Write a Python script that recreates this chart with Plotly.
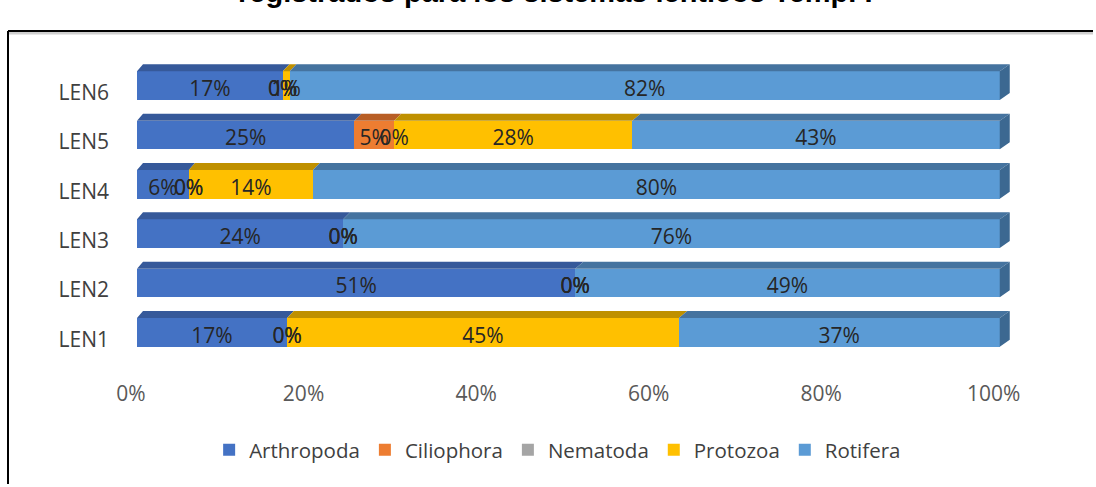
import plotly.graph_objects as go

# ---- data -------------------------------------------------------------
categories = ["LEN1", "LEN2", "LEN3", "LEN4", "LEN5", "LEN6"]
series_names = ["Arthropoda", "Ciliophora", "Nematoda", "Protozoa", "Rotifera"]
arthropoda = [17.4, 50.8, 23.9, 6.0, 25.2, 16.9]
ciliophora = [0.0, 0.0, 0.0, 0.0, 4.6, 0.0]
nematoda = [0.0, 0.0, 0.0, 0.0, 0.0, 0.0]
protozoa = [45.4, 0.0, 0.0, 14.4, 27.6, 0.8]
rotifera = [37.2, 49.2, 76.1, 79.6, 42.6, 82.3]
x_tick_values = [0, 20, 40, 60, 80, 100]
x_tick_labels = ["0%", "20%", "40%", "60%", "80%", "100%"]
title_text = "registrados para los sistemas lénticos Temp. I"

# ---- styling ----------------------------------------------------------
front_colors = ["#4472C4", "#ED7D31", "#A5A5A5", "#FFC000", "#5B9BD5"]
top_colors = ["#36599A", "#B85E25", "#7C7C7C", "#BF9000", "#45739F"]
side_color = "#3C6891"
FONT = "Open Sans"

W, H = 1096, 487
M_L, M_R, M_T, M_B = 137, 79, 61, 130
X_MAX = 102.0
PLOT_W = W - M_L - M_R
PLOT_H = H - M_T - M_B
Y_LO, Y_HI = -0.5, 5.5
PX_X = PLOT_W / X_MAX              # pixels per percent
PX_Y = PLOT_H / (Y_HI - Y_LO)      # pixels per category step
BAR_W = 0.58
DEPTH_Y = 7 / PX_Y


def depth_x(x):
    # horizontal depth offset of the 3-D faces grows slightly to the right
    return (6 + 4 * x / 100) / PX_X


series = [arthropoda, ciliophora, nematoda, protozoa, rotifera]
rows = list(range(len(categories)))

fig = go.Figure()

# front faces: stacked horizontal bars
for name, vals, col in zip(series_names, series, front_colors):
    fig.add_trace(go.Bar(
        y=rows, x=vals, name=name, orientation="h", width=BAR_W,
        marker=dict(color=col, line=dict(width=0)),
        hoverinfo="skip",
    ))

# top faces of every segment and the right-hand side face
starts = [[0.0] * len(rows)]
for vals in series[:-1]:
    starts.append([s + v for s, v in zip(starts[-1], vals)])

for k, (vals, col) in enumerate(zip(series, top_colors)):
    xs, ys = [], []
    for r in rows:
        a = starts[k][r]
        b = a + vals[r]
        if vals[r] <= 0:
            continue
        yt = r + BAR_W / 2
        xs += [a, b, b + depth_x(b), a + depth_x(a), a, None]
        ys += [yt, yt, yt + DEPTH_Y, yt + DEPTH_Y, yt, None]
    if xs:
        fig.add_trace(go.Scatter(
            x=xs, y=ys, mode="lines", fill="toself", fillcolor=col,
            line=dict(width=0, color=col), showlegend=False, hoverinfo="skip",
        ))

sx, sy = [], []
for r in rows:
    end = sum(vals[r] for vals in series)
    yt, yb = r + BAR_W / 2, r - BAR_W / 2
    d = depth_x(end)
    sx += [end, end + d, end + d, end, end, None]
    sy += [yt, yt + DEPTH_Y, yb + DEPTH_Y, yb, yt, None]
fig.add_trace(go.Scatter(
    x=sx, y=sy, mode="lines", fill="toself", fillcolor=side_color,
    line=dict(width=0, color=side_color), showlegend=False, hoverinfo="skip",
))

# data labels centred on each segment's front face
lx, ly, lt = [], [], []
for k, vals in enumerate(series):
    for r in rows:
        lx.append(starts[k][r] + vals[r] / 2)
        ly.append(r - 5 / PX_Y)
        lt.append(f"{round(vals[r])}%")
fig.add_trace(go.Scatter(
    x=lx, y=ly, text=lt, mode="text", textposition="middle center",
    textfont=dict(family=FONT, size=21, color="#262626"),
    showlegend=False, hoverinfo="skip", cliponaxis=False,
))

# frame: top and left edges, stopping just short of the page border
fx0 = (8 - M_L) / PLOT_W
fx1 = (W - 3 - M_L) / PLOT_W
fy_top = 1 + (M_T - 31) / PLOT_H
fy_shadow = 1 + (M_T - 33) / PLOT_H
fy_bot = -(M_B - 3) / PLOT_H

fig.update_layout(
    barmode="stack",
    width=W, height=H,
    margin=dict(l=M_L, r=M_R, t=M_T, b=M_B, pad=0),
    paper_bgcolor="white", plot_bgcolor="white",
    font=dict(family=FONT, color="#404040"),
    showlegend=True,
    legend=dict(
        orientation="h", x=0.478, xanchor="center", y=-0.314, yanchor="middle",
        traceorder="normal", font=dict(family=FONT, size=20.5, color="#404040"),
        bgcolor="rgba(0,0,0,0)",
    ),
    xaxis=dict(
        range=[0, X_MAX], tickvals=x_tick_values, ticktext=x_tick_labels,
        showgrid=False, zeroline=False, showline=False,
        tickfont=dict(family=FONT, size=21, color="#595959"),
        ticklabelstandoff=22, ticklabelshift=-6,
    ),
    yaxis=dict(
        range=[Y_LO, Y_HI], tickvals=rows, ticktext=categories,
        showgrid=False, zeroline=False, showline=False,
        tickfont=dict(family=FONT, size=21, color="#404040"),
        ticklabelstandoff=27, ticklabelshift=7,
    ),
    shapes=[
        dict(type="line", xref="paper", yref="paper",
             x0=fx0, x1=fx1, y0=fy_shadow, y1=fy_shadow,
             line=dict(color="#CFCFCF", width=3), layer="below"),
        dict(type="line", xref="paper", yref="paper",
             x0=fx0, x1=fx1, y0=fy_top, y1=fy_top,
             line=dict(color="black", width=2), layer="below"),
        dict(type="line", xref="paper", yref="paper",
             x0=fx0, x1=fx0, y0=fy_bot, y1=fy_top,
             line=dict(color="black", width=2), layer="below"),
    ],
    annotations=[
        dict(text=title_text, xref="paper", yref="paper",
             x=(555 - M_L) / PLOT_W, xanchor="center",
             y=1 + (M_T - 10) / PLOT_H, yanchor="bottom",
             showarrow=False,
             font=dict(family="Liberation Sans", size=29, color="black",
                       weight="bold")),
    ],
)

fig.write_html("out.html")
